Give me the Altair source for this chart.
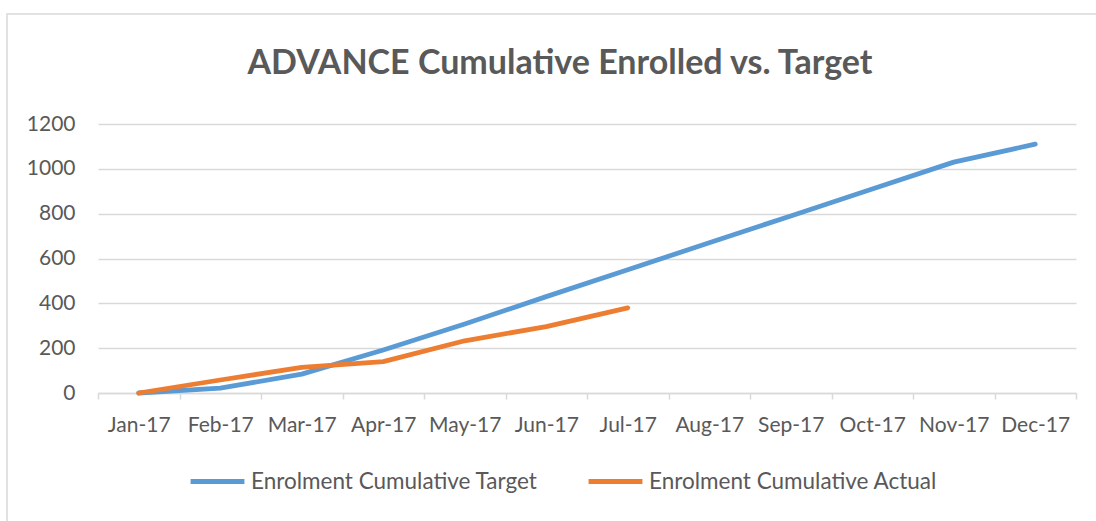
import altair as alt
import pandas as pd

months = ["Jan-17", "Feb-17", "Mar-17", "Apr-17", "May-17", "Jun-17",
          "Jul-17", "Aug-17", "Sep-17", "Oct-17", "Nov-17", "Dec-17"]
target = [0, 22, 84, 192, 308, 430, 550, 670, 790, 910, 1030, 1110]
actual = [0, 58, 114, 140, 233, 296, 380]
series_names = ["Enrolment Cumulative Target", "Enrolment Cumulative Actual"]
colors = ["#5B9BD5", "#ED7D31"]
y_ticks = [0, 200, 400, 600, 800, 1000, 1200]

rows = []
for m, v in zip(months, target):
    rows.append({"month": m, "value": v, "series": series_names[0]})
for m, v in zip(months, actual):
    rows.append({"month": m, "value": v, "series": series_names[1]})
df = pd.DataFrame(rows)

FONT = "Lato"
TXT = "#595959"
GRID = "#D9D9D9"

lines = alt.Chart(df).mark_line(strokeWidth=4.8, strokeCap="round", strokeJoin="round").encode(
    x=alt.X("month:N", sort=months, bandPosition=0.5,
            scale=alt.Scale(type="band", paddingInner=0, paddingOuter=0),
            axis=alt.Axis(title=None, labelAngle=0, tickBand="extent", tickSize=6,
                          tickColor=GRID, tickWidth=1.5, domainColor=GRID, domainWidth=1.5,
                          labelPadding=15, labelFontSize=21, labelColor=TXT, labelFont=FONT,
                          grid=False)),
    y=alt.Y("value:Q", scale=alt.Scale(domain=[0, 1200], nice=False),
            axis=alt.Axis(title=None, values=y_ticks, format="d", domain=False, ticks=False,
                          gridColor=GRID, gridWidth=1.5, labelPadding=23,
                          labelFontSize=21, labelColor=TXT, labelFont=FONT)),
    color=alt.Color("series:N", sort=series_names,
                    scale=alt.Scale(domain=series_names, range=colors),
                    legend=alt.Legend(title=None, orient="none", direction="horizontal",
                                      legendX=90, legendY=328,
                                      symbolType="stroke", symbolSize=2900,
                                      symbolStrokeWidth=4.8, labelOffset=4,
                                      columnPadding=40, labelFontSize=22.5,
                                      labelColor=TXT, labelFont=FONT, labelLimit=500)),
)

border = alt.Chart(pd.DataFrame({"k": [0]})).mark_rect(
    fillOpacity=0, stroke=GRID, strokeWidth=1.5
).encode(
    x=alt.value(-91), x2=alt.value(1010), y=alt.value(-110), y2=alt.value(410)
)

chart = alt.layer(border, lines).properties(
    width=978, height=269,
    padding={"left": 98, "top": 124, "right": 20, "bottom": 128},
    autosize=alt.AutoSizeParams(type="none"),
    background="white",
    title=alt.TitleParams("ADVANCE Cumulative Enrolled vs. Target", font=FONT,
                          fontSize=34, fontWeight="bold", color=TXT,
                          anchor="middle", frame="group", baseline="alphabetic",
                          offset=-95, dx=-27),
).configure_view(stroke=None)

chart.save("out.html", embed_options={"renderer": "svg", "actions": False})
